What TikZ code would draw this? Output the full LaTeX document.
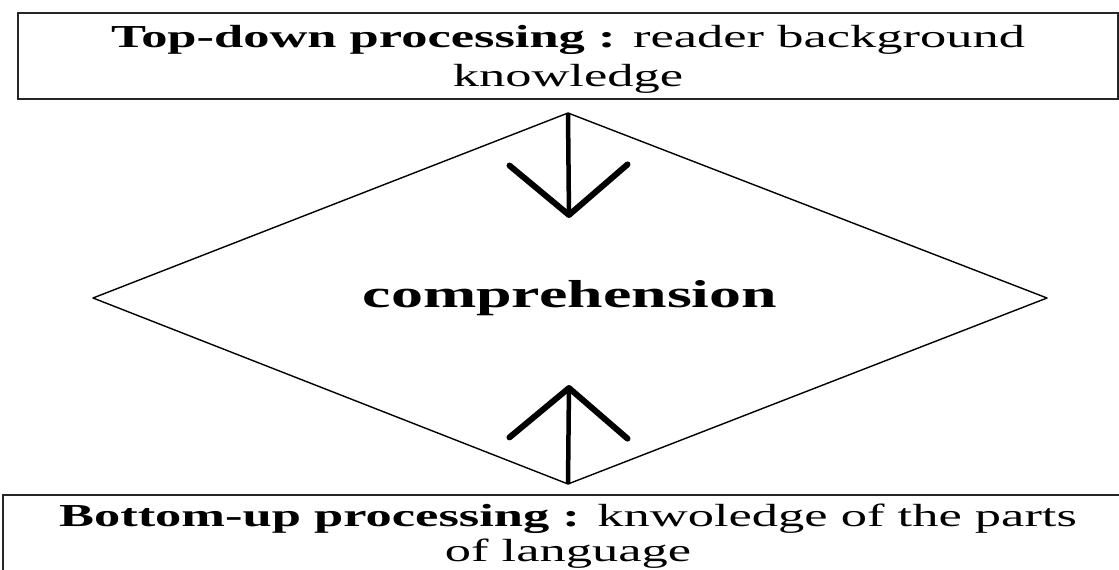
\documentclass[tikz,border=0pt]{standalone}
\usepackage{fontspec}
\setmainfont[FakeStretch=1.64]{Liberation Serif}
\usetikzlibrary{arrows.meta}
\tikzset{
  box/.style={draw=black!85,line width=2pt,rectangle,inner sep=0pt,
    align=center,font=\fontsize{32}{39}\selectfont},
  flow/.style={line width=4.5pt,
    -{Straight Barb[length=50pt,width=118pt,line width=6pt,round]}},
}
\tikzstyle{every node}=[text=black]

\begin{document}
\begin{tikzpicture}[x=1pt,y=-1pt]
    \clip (0,0) rectangle (1119,570);
    \node[box,minimum width=1100pt,minimum height=86pt,text depth=-6pt] (top) at (568,56)
      {\textbf{Top-down processing :} reader background\\knowledge};
    \node[box,anchor=north,minimum width=1130pt,minimum height=82pt,
      font=\fontsize{32}{35}\selectfont] (bottom) at (568,494)
      {\textbf{Bottom-up processing :} knwoledge of the parts\\of language};

    % diamond
    \coordinate (comp-n) at (568,113);
    \coordinate (comp-s) at (568,484);
    \coordinate (comp-w) at (93,298);
    \coordinate (comp-e) at (1047,298);
    \draw[line width=1.4pt,line join=round] (comp-n) -- (comp-e) -- (comp-s) -- (comp-w) -- cycle;
    \node[font=\fontsize{39}{45}\selectfont\bfseries] (comp) at (570,298) {comprehension};

    \coordinate (downtip) at (569,218);
    \coordinate (uptip) at (569,385);
    \draw[flow] (comp-n) -- (downtip);
    \draw[flow] (comp-s) -- (uptip);
\end{tikzpicture}
\end{document}
